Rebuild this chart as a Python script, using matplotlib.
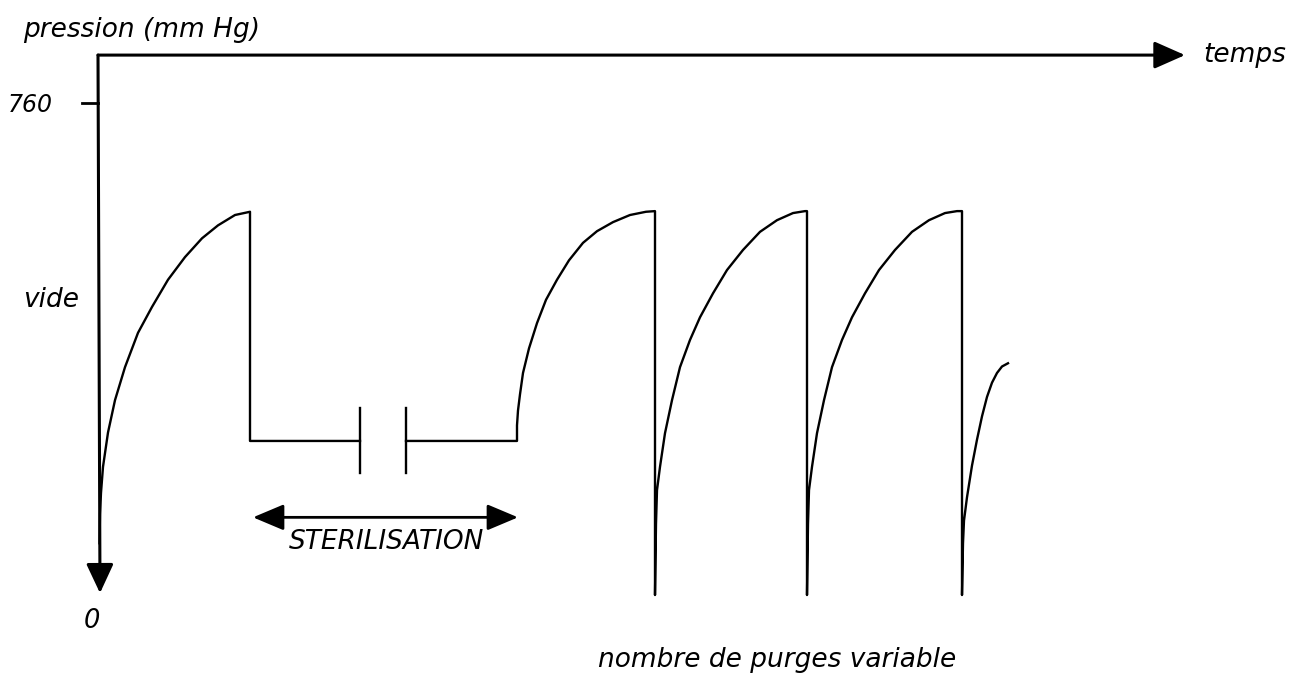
import numpy as np
import matplotlib.pyplot as plt

# time in arbitrary units, pressure in mm Hg
first_rise_t = [1.5, 2, 3, 5, 10, 17, 27, 40, 54, 70, 87, 104, 120, 137, 152]
first_rise_p = [80, 125, 158, 198, 251, 301, 352, 405, 445, 487, 522, 551, 571, 587, 592]

plateau_p = 238
plateau_t = [152, 262, 308, 419]      # start, break, break, end
break_p = [188, 289]                  # extent of the two break marks

steril_rise_t = [419, 419, 420, 422, 425, 431, 439, 448, 459, 471, 485, 499, 515, 532, 548, 557]
steril_rise_p = [238, 262, 285, 310, 343, 381, 420, 456, 487, 517, 544, 562, 576, 587, 592, 593]

purge_drop_t = [557, 709, 864]
purge_rise_dt = [0, 1, 2, 5, 10, 17, 25, 35, 45, 58, 72, 88, 105, 122, 138, 150, 152]
purge_rise_p = [0, 110, 162, 198, 250, 301, 352, 394, 429, 466, 502, 533, 561, 579, 590, 593, 593]
peak_p = 593

last_rise_t = [864, 865, 866, 869, 874, 879, 884, 889, 894, 899, 904, 910]
last_rise_p = [0, 80, 115, 151, 200, 240, 276, 306, 328, 343, 353, 358]

steril_span = [155, 420]
steril_arrow_p = 120

# build the pressure trace
t = list(first_rise_t) + [152, plateau_t[1], np.nan, plateau_t[2]]
p = list(first_rise_p) + [plateau_p, plateau_p, np.nan, plateau_p]
t += steril_rise_t
p += steril_rise_p
for i, td in enumerate(purge_drop_t):
    t += [td, td]
    p += [peak_p, 0]
    if i < len(purge_drop_t) - 1:
        t += [td + d for d in purge_rise_dt]
        p += purge_rise_p
t += last_rise_t
p += last_rise_p

fig = plt.figure(figsize=(13.01, 6.88), dpi=100)
ax = fig.add_axes([0, 0, 1, 1])
ax.set_xlim(-98, 1203)
ax.set_ylim(-143.6, 919.1)
ax.axis('off')

ax.plot(t, p, color='black', lw=1.7, solid_joinstyle='round')

# break marks on the sterilisation plateau
for tb in plateau_t[1:3]:
    ax.plot([tb, tb], break_p, color='black', lw=1.7)

# axes drawn as arrows
axis_top = 834
ax.annotate('', xy=(1087, axis_top), xytext=(0, axis_top),
            arrowprops=dict(arrowstyle='-|>,head_length=0.95,head_width=0.42',
                            mutation_scale=20, lw=2.2, color='black',
                            shrinkA=0, shrinkB=0))
ax.annotate('', xy=(2, 3), xytext=(0, axis_top),
            arrowprops=dict(arrowstyle='-|>,head_length=0.9,head_width=0.42',
                            mutation_scale=20, lw=2.2, color='black',
                            shrinkA=0, shrinkB=0))
ax.plot([-16, 0], [760, 760], color='black', lw=2.0)

# sterilisation span
ax.annotate('', xy=(steril_span[1], steril_arrow_p), xytext=(steril_span[0], steril_arrow_p),
            arrowprops=dict(arrowstyle='<|-|>,head_length=0.95,head_width=0.4',
                            mutation_scale=20, lw=2.0, color='black',
                            shrinkA=0, shrinkB=0))

txt = dict(family='DejaVu Sans', style='italic', color='black', fontsize=19)
num = dict(family='DejaVu Sans', style='italic', color='black', fontsize=17)
ax.text(-75, 873, 'pression (mm Hg)', ha='left', va='center', **txt)
ax.text(-90, 757, '760', ha='left', va='center', **num)
ax.text(-75, 456, 'vide', ha='left', va='center', **txt)
ax.text(-6, -40, '0', ha='center', va='center', family='DejaVu Sans',
        style='italic', color='black', fontsize=18.5)
ax.text(1105, 834, 'temps', ha='left', va='center', **txt)
ax.text(289, 82, 'STERILISATION', ha='center', va='center', **txt)
ax.text(500, -100, 'nombre de purges variable', ha='left', va='center', **txt)

plt.savefig('out.png', dpi=100)
